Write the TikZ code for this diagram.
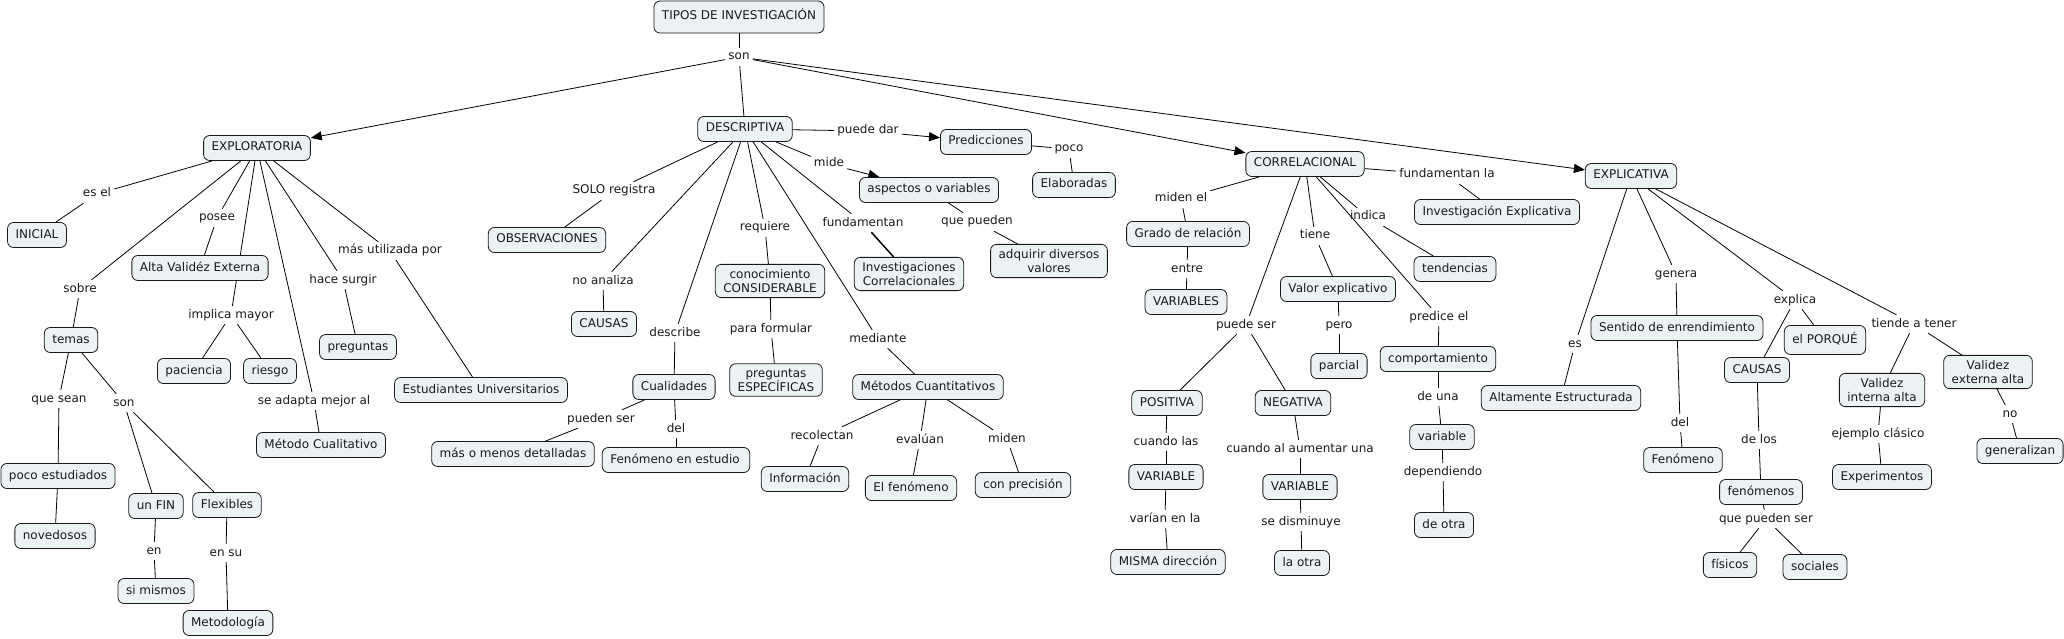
\documentclass[tikz,border=0pt]{standalone}
\usepackage{fontspec}
\setmainfont{DejaVu Sans}
\usetikzlibrary{arrows.meta,backgrounds}
\definecolor{cfill}{HTML}{ECF2F4}
\definecolor{ctext}{HTML}{1A1A1A}
\newcommand{\mf}{\fontsize{12}{14}\selectfont}
\tikzset{
  concept/.style={draw=black!90, fill=cfill, rounded corners=6pt, line width=0.8pt,
    inner xsep=8pt, inner ysep=6.5pt, text height=9pt, text depth=3pt, font=\mf, text=ctext},
  concepttwo/.style={draw=black!90, fill=cfill, rounded corners=6pt, line width=0.8pt,
    inner xsep=8pt, inner ysep=5pt, align=center, font=\mf, text=ctext},
  lbl/.style={inner xsep=3pt, inner ysep=3pt, text height=9pt, text depth=3pt, font=\mf, text=ctext},
  link/.style={line width=0.8pt, black},
  arr/.style={link, -{Triangle[length=11pt,width=9pt]}},
}
\begin{document}
\begin{tikzpicture}[x=1pt,y=1pt]
\useasboundingbox (0,0) rectangle (2064,-639);
% ---------------- concepts
\node[concept, minimum height=32pt] (tipos) at (739,-17) {TIPOS DE INVESTIGACIÓN};
\node[concept] (explo) at (257,-148) {EXPLORATORIA};
\node[concept] (desc) at (745,-129) {DESCRIPTIVA};
\node[concept] (corr) at (1305,-164) {CORRELACIONAL};
\node[concept] (expl) at (1631,-176) {EXPLICATIVA};
\node[concept] (inicial) at (37,-235) {INICIAL};
\node[concept] (alta) at (200,-268) {Alta Validéz Externa};
\node[concept] (temas) at (71,-340) {temas};
\node[concept] (paciencia) at (194,-371) {paciencia};
\node[concept] (riesgo) at (270,-371) {riesgo};
\node[concept] (preguntas) at (358,-347) {preguntas};
\node[concept] (estud) at (481,-390) {Estudiantes Universitarios};
\node[concept] (metcual) at (321,-445) {Método Cualitativo};
\node[concept] (pocoest) at (58,-476) {poco estudiados};
\node[concept] (noved) at (55,-536) {novedosos};
\node[concept] (unfin) at (156,-506) {un FIN};
\node[concept] (flex) at (227,-505) {Flexibles};
\node[concept] (simismos) at (156,-591) {si mismos};
\node[concept] (metodol) at (228,-623) {Metodología};
\node[concept] (pred) at (986,-142) {Predicciones};
\node[concept] (aspectos) at (929,-190) {aspectos o variables};
\node[concept] (obs) at (547,-240) {OBSERVACIONES};
\node[concepttwo] (invcorr) at (909,-274) {Investigaciones\\Correlacionales};
\node[concepttwo] (conoc) at (770,-281) {conocimiento\\CONSIDERABLE};
\node[concepttwo] (adq) at (1049,-261) {adquirir diversos\\valores};
\node[concept] (causasa) at (604,-324) {CAUSAS};
\node[concept] (cualid) at (674,-387) {Cualidades};
\node[concepttwo] (pregesp) at (776,-380) {preguntas\\ESPECÍFICAS};
\node[concept] (metcuan) at (928,-387) {Métodos Cuantitativos};
\node[concept] (masmenos) at (513,-454) {más o menos detalladas};
\node[concept] (fenest) at (676,-460) {Fenómeno en estudio\,};
\node[concept] (info) at (805,-479) {Información};
\node[concept] (elfen) at (911,-488) {El fenómeno};
\node[concept] (conprec) at (1023,-485) {con precisión};
\node[concept] (elab) at (1074,-185) {Elaboradas};
\node[concept] (invexpl) at (1497,-212) {Investigación Explicativa};
\node[concept] (grado) at (1188,-234) {Grado de relación};
\node[concept] (tend) at (1455,-269) {tendencias};
\node[concept] (valor) at (1338,-289) {Valor explicativo};
\node[concept] (variables) at (1186,-302) {VARIABLES};
\node[concept] (parcial) at (1339,-366) {parcial};
\node[concept] (comport) at (1438,-359) {comportamiento};
\node[concept] (positiva) at (1167,-403) {POSITIVA};
\node[concept] (negativa) at (1293,-403) {NEGATIVA};
\node[concept] (altest) at (1561,-398) {Altamente Estructurada};
\node[concept] (variable) at (1442,-437) {variable};
\node[concept] (varpos) at (1166,-477) {VARIABLE};
\node[concept] (varneg) at (1300,-487) {VARIABLE};
\node[concept] (deotra) at (1444,-525) {de otra};
\node[concept] (misma) at (1168,-562) {MISMA dirección};
\node[concept] (laotra) at (1302,-563) {la otra};
\node[concept] (sentido) at (1677,-328) {Sentido de enrendimiento};
\node[concept, minimum height=29pt] (porque) at (1825,-340) {el PORQUÉ};
\node[concept] (causasb) at (1757,-370) {CAUSAS};
\node[concepttwo] (valint) at (1882,-390) {Validez\\interna alta};
\node[concepttwo] (valext) at (1988,-372) {Validez\\externa alta};
\node[concept] (generalizan) at (2020,-451) {generalizan};
\node[concept] (fenomeno) at (1683,-460) {Fenómeno};
\node[concept] (experim) at (1882,-477) {Experimentos};
\node[concept] (fenomenos) at (1761,-492) {fenómenos};
\node[concept] (fisicos) at (1730,-565) {físicos};
\node[concept] (sociales) at (1815,-567) {sociales};
% ---------------- linking phrases
\node[lbl] (lson) at (739,-57) {son};
\node[lbl] (lesel) at (97,-194) {es el};
\node[lbl] (lposee) at (217,-218) {posee};
\node[lbl] (lsobre) at (80,-289) {sobre};
\node[lbl] (lhace) at (343,-280) {hace surgir};
\node[lbl] (lmasutil) at (390,-251) {más utilizada por};
\node[lbl] (limplica) at (231,-315) {implica mayor};
\node[lbl] (lquesean) at (59,-399) {que sean};
\node[lbl] (lsonb) at (124,-403) {son};
\node[lbl] (ladapta) at (314,-401) {se adapta mejor al};
\node[lbl] (len) at (154,-551) {en};
\node[lbl] (lensu) at (226,-553) {en su};
\node[lbl] (lpuededar) at (868,-131) {puede dar};
\node[lbl] (lmide) at (829,-164) {mide};
\node[lbl] (lsolo) at (614,-191) {SOLO registra};
\node[lbl] (lrequiere) at (765,-228) {requiere};
\node[lbl] (lfundamentan) at (863,-223) {fundamentan};
\node[lbl] (lquepueden) at (977,-222) {que pueden};
\node[lbl] (lnoanaliza) at (603,-281) {no analiza};
\node[lbl] (ldescribe) at (675,-333) {describe};
\node[lbl] (lparaform) at (771,-329) {para formular};
\node[lbl] (lmediante) at (878,-339) {mediante};
\node[lbl] (lpuedenser) at (601,-419) {pueden ser};
\node[lbl] (ldel) at (676,-429) {del};
\node[lbl] (lrecolectan) at (822,-436) {recolectan};
\node[lbl] (levaluan) at (920,-440) {evalúan};
\node[lbl] (lmiden) at (1007,-439) {miden};
\node[lbl] (lpoco) at (1069,-149) {poco};
\node[lbl] (lfundla) at (1447,-175) {fundamentan la};
\node[lbl] (lmidenel) at (1181,-199) {miden el};
\node[lbl] (lindica) at (1368,-217) {indica};
\node[lbl] (ltiene) at (1315,-236) {tiene};
\node[lbl] (lentre) at (1187,-269) {entre};
\node[lbl] (lpuedeser) at (1246,-325) {puede ser};
\node[lbl] (lpero) at (1339,-325) {pero};
\node[lbl] (lpredice) at (1439,-317) {predice el};
\node[lbl] (ldeuna) at (1438,-397) {de una};
\node[lbl] (lcuandolas) at (1166,-442) {cuando las};
\node[lbl] (lcuandoal) at (1300,-449) {cuando al aumentar una};
\node[lbl] (ldependiendo) at (1443,-472) {dependiendo};
\node[lbl] (lvarian) at (1165,-519) {varían en la};
\node[lbl] (lsedism) at (1301,-522) {se disminuye};
\node[lbl] (lgenera) at (1676,-274) {genera};
\node[lbl] (lexplica) at (1795,-300) {explica};
\node[lbl] (ltiende) at (1914,-324) {tiende a tener};
\node[lbl] (les) at (1575,-344) {es};
\node[lbl] (ldelb) at (1680,-423) {del};
\node[lbl] (ldelos) at (1759,-440) {de los};
\node[lbl] (lejemplo) at (1878,-434) {ejemplo clásico};
\node[lbl] (lno) at (2010,-414) {no};
\node[lbl] (lquepuedenser) at (1766,-519) {que pueden ser};
% ---------------- connectors
\begin{pgfonlayer}{background}
\fill[white] (0,0) rectangle (2064,-639);
\draw[link] (tipos) -- (lson);
\draw[arr] (lson) -- (explo);
\draw[link] (lson) -- (desc);
\draw[arr] (lson) -- (corr);
\draw[arr] (lson) -- (expl);
% exploratoria
\draw[link] (explo) -- (lesel); \draw[link] (lesel) -- (inicial);
\draw[link] (explo) -- (lposee); \draw[link] (lposee) -- (alta);
\draw[link] (explo) -- (limplica);
\draw[link] (limplica) -- (paciencia); \draw[link] (limplica) -- (riesgo);
\draw[link] (explo) -- (lsobre); \draw[link] (lsobre) -- (temas);
\draw[link] (explo) -- (ladapta); \draw[link] (ladapta) -- (metcual);
\draw[link] (explo) -- (lhace); \draw[link] (lhace) -- (preguntas);
\draw[link] (explo) -- (lmasutil); \draw[link] (lmasutil) -- (estud);
\draw[link] (temas) -- (lquesean); \draw[link] (lquesean) -- (pocoest);
\draw[link] (pocoest) -- (noved);
\draw[link] (temas) -- (lsonb);
\draw[link] (lsonb) -- (unfin); \draw[link] (lsonb) -- (flex);
\draw[link] (unfin) -- (len); \draw[link] (len) -- (simismos);
\draw[link] (flex) -- (lensu); \draw[link] (lensu) -- (metodol);
% descriptiva
\draw[link] (desc) -- (lpuededar); \draw[arr] (lpuededar) -- (pred);
\draw[link] (pred) -- (lpoco); \draw[link] (lpoco) -- (elab);
\draw[link] (desc) -- (lmide); \draw[arr] (lmide) -- (aspectos);
\draw[link] (aspectos) -- (lquepueden); \draw[link] (lquepueden) -- (adq);
\draw[link] (desc) -- (lsolo); \draw[link] (lsolo) -- (obs);
\draw[link] (desc) -- (lnoanaliza); \draw[link] (lnoanaliza) -- (causasa);
\draw[link] (desc) -- (ldescribe); \draw[link] (ldescribe) -- (cualid);
\draw[link] (cualid) -- (lpuedenser); \draw[link] (lpuedenser) -- (masmenos);
\draw[link] (cualid) -- (ldel); \draw[link] (ldel) -- (fenest);
\draw[link] (desc) -- (lrequiere); \draw[link] (lrequiere) -- (conoc);
\draw[link] (conoc) -- (lparaform); \draw[link] (lparaform) -- (pregesp);
\draw[link] (desc) -- (lmediante); \draw[link] (lmediante) -- (metcuan);
\draw[link] (metcuan) -- (lrecolectan); \draw[link] (lrecolectan) -- (info);
\draw[link] (metcuan) -- (levaluan); \draw[link] (levaluan) -- (elfen);
\draw[link] (metcuan) -- (lmiden); \draw[link] (lmiden) -- (conprec);
\draw[link] (desc) -- (lfundamentan);
\draw[link, line width=1.5pt] (lfundamentan) -- (invcorr);
% correlacional
\draw[link] (corr) -- (lfundla); \draw[link] (lfundla) -- (invexpl);
\draw[link] (corr) -- (lmidenel); \draw[link] (lmidenel) -- (grado);
\draw[link] (grado) -- (lentre); \draw[link] (lentre) -- (variables);
\draw[link] (corr) -- (lpuedeser);
\draw[link] (lpuedeser) -- (positiva); \draw[link] (lpuedeser) -- (negativa);
\draw[link] (corr) -- (ltiene); \draw[link] (ltiene) -- (valor);
\draw[link] (valor) -- (lpero); \draw[link] (lpero) -- (parcial);
\draw[link] (corr) -- (lindica); \draw[link] (lindica) -- (tend);
\draw[link] (corr) -- (lpredice); \draw[link] (lpredice) -- (comport);
\draw[link] (comport) -- (ldeuna); \draw[link] (ldeuna) -- (variable);
\draw[link] (variable) -- (ldependiendo); \draw[link] (ldependiendo) -- (deotra);
\draw[link] (positiva) -- (lcuandolas); \draw[link] (lcuandolas) -- (varpos);
\draw[link] (varpos) -- (lvarian); \draw[link] (lvarian) -- (misma);
\draw[link] (negativa) -- (lcuandoal); \draw[link] (lcuandoal) -- (varneg);
\draw[link] (varneg) -- (lsedism); \draw[link] (lsedism) -- (laotra);
% explicativa
\draw[link] (expl) -- (les); \draw[link] (les) -- (altest);
\draw[link] (expl) -- (lgenera); \draw[link] (lgenera) -- (sentido);
\draw[link] (sentido) -- (ldelb); \draw[link] (ldelb) -- (fenomeno);
\draw[link] (expl) -- (lexplica);
\draw[link] (lexplica) -- (causasb); \draw[link] (lexplica) -- (porque);
\draw[link] (causasb) -- (ldelos); \draw[link] (ldelos) -- (fenomenos);
\draw[link] (fenomenos) -- (lquepuedenser);
\draw[link] (lquepuedenser) -- (fisicos); \draw[link] (lquepuedenser) -- (sociales);
\draw[link] (expl) -- (ltiende);
\draw[link] (ltiende) -- (valint); \draw[link] (ltiende) -- (valext);
\draw[link] (valint) -- (lejemplo); \draw[link] (lejemplo) -- (experim);
\draw[link] (valext) -- (lno); \draw[link] (lno) -- (generalizan);
\end{pgfonlayer}
\end{tikzpicture}
\end{document}
